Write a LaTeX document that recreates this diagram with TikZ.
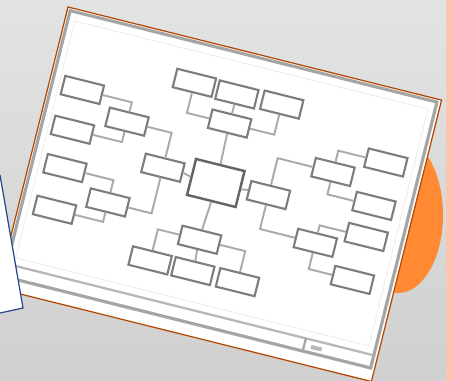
\documentclass[tikz,border=0pt]{standalone}
\usepackage{tikz}
\usetikzlibrary{calc}
\definecolor{sheetedge}{RGB}{180,70,0}
\definecolor{blobcol}{RGB}{255,138,51}
\definecolor{stripcol}{RGB}{250,198,178}
\definecolor{framegray}{RGB}{165,165,165}
\definecolor{boxgray}{RGB}{125,125,125}
\definecolor{linkgray}{RGB}{170,170,170}
\definecolor{bluesheet}{RGB}{40,70,140}
\tikzset{
  box/.style={draw=boxgray,line width=1.2pt,fill=white,minimum width=0.8cm,minimum height=0.38cm,inner sep=0pt},
  hubbox/.style={box,draw=boxgray!80!black,line width=1.4pt,minimum width=1.0cm,minimum height=0.74cm},
  link/.style={draw=linkgray,line width=1.1pt}
}
\begin{document}
\begin{tikzpicture}[x=0.02cm,y=-0.02cm]
\useasboundingbox (0,0) rectangle (453,381);
% background and the orange blob behind the sheet
\shade[top color=gray!22,bottom color=gray!37] (0,0) rectangle (453,381);
\fill[stripcol] (446,0) rectangle (453,381);
\fill[blobcol] (398,215) ellipse [x radius=45,y radius=78];

% tilted sheet with the mind map
\begin{scope}[shift={(68,7)},rotate=-14,transform shape]
\draw[sheetedge,line width=0.7pt,fill=white] (0,0) rectangle (385,290);
\draw[gray!12,line width=0.6pt] (10,12) rectangle (374,256);
\draw[framegray,line width=1.8pt] (3,3) rectangle (381,277);
\draw[framegray!80,line width=1.3pt] (4,264) -- (380,264);
\draw[framegray,line width=1.3pt] (311,264) -- (311,277);
\fill[gray!55] (318,269) rectangle (329,273);

% top branch
\node[box] (T1) at (141,43) {};
\node[box] (T2) at (185,44) {};
\node[box] (T3) at (231,43) {};
\node[box] (T) at (185,74) {};
% middle row
\node[hubbox] (C) at (186,135) {};
\node[box] (L) at (131,133) {};
\node[box] (R) at (240,134) {};
% bottom branch
\node[box] (B) at (184,194) {};
\node[box] (B1) at (141,226) {};
\node[box] (B2) at (185,226) {};
\node[box] (B3) at (231,226) {};
% left leaves
\node[box] (A1) at (34,77) {};
\node[box] (A2) at (34,118) {};
\node[box] (A3) at (36,157) {};
\node[box] (A4) at (36,200) {};
\node[box] (A5) at (85,97) {};
\node[box] (A6) at (86,180) {};
% right leaves
\node[box] (R1) at (297,96) {};
\node[box] (R2) at (346,74) {};
\node[box] (R3) at (345,119) {};
\node[box] (R4) at (297,169) {};
\node[box] (R5) at (345,151) {};
\node[box] (R6) at (342,196) {};

% connectors
\draw[link] (T1.south) -- ($(T1.north)!(T.west)!(T1.south)$) -- (T.west);
\draw[link] (T2.south) -- (T.north);
\draw[link] (T3.south) -- ($(T3.north)!(T.east)!(T3.south)$) -- (T.east);
\draw[link] (T.south) -- (C.north);
\draw[link] (L.east) -- (C.west);
\draw[link] (C.east) -- (R.west);
\draw[link] (C.south) -- (B.north);
\draw[link] (B.west) -- ($(B.east)!(B1.north)!(B.west)$) -- (B1.north);
\draw[link] (B.south) -- (B2.north);
\draw[link] (B.east) -- ($(B.west)!(B3.north)!(B.east)$) -- (B3.north);
\draw[link] (A1.east) -- ($(A1.west)!(A5.north)!(A1.east)$) -- (A5.north);
\draw[link] (A2.east) -- ($(A2.west)!(A5.south)!(A2.east)$) -- (A5.south);
\draw[link] (A5.east) -- ($(A5.west)!(L.north)!(A5.east)$) -- (L.north);
\draw[link] (L.south) -- ($(L.north)!(A6.east)!(L.south)$) -- (A6.east);
\draw[link] (A6.north) -- ($(A6.south)!(A3.east)!(A6.north)$) -- (A3.east);
\draw[link] (A6.south) -- ($(A6.north)!(A4.east)!(A6.south)$) -- (A4.east);
\draw[link] (R.north) -- ($(R.south)!(R1.west)!(R.north)$) -- (R1.west);
\draw[link] (R1.north) -- ($(R1.south)!(R2.west)!(R1.north)$) -- (R2.west);
\draw[link] (R1.south) -- ($(R1.north)!(R3.west)!(R1.south)$) -- (R3.west);
\draw[link] (R.south) -- ($(R.north)!(R4.west)!(R.south)$) -- (R4.west);
\draw[link] (R4.north) -- ($(R4.south)!(R5.west)!(R4.north)$) -- (R5.west);
\draw[link] (R4.south) -- ($(R4.north)!(R6.west)!(R4.south)$) -- (R6.west);
\end{scope}

% blue-edged sheet at the left, on top
\fill[white] (0,175) -- (23,308) -- (0,313) -- cycle;
\draw[bluesheet,line width=0.7pt] (0,175) -- (23,308) -- (0,313);
\end{tikzpicture}
\end{document}
